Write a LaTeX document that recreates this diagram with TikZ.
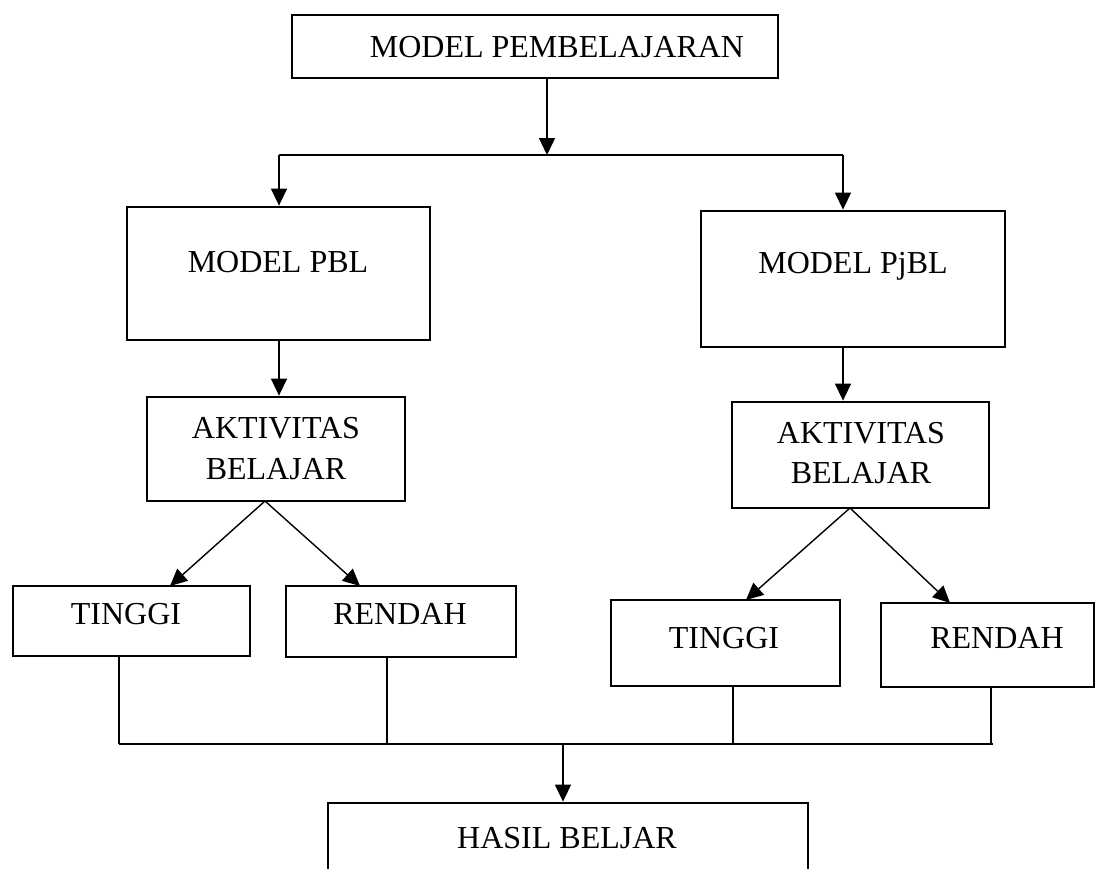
\documentclass[tikz,border=0pt]{standalone}
\usepackage{fontspec}
\setmainfont{Liberation Serif}
\usetikzlibrary{arrows.meta}
\begin{document}
\begin{tikzpicture}[x=1pt,y=-1pt,
  boxnode/.style={draw=black,line width=2.8pt,rectangle,inner sep=0pt},
  lbl/.style={inner sep=0pt,font=\fontsize{32}{37}\selectfont},
  conn/.style={line width=1.4pt},
  arr/.style={line width=1.4pt,-{Triangle[length=17pt,width=16pt]}}]
\useasboundingbox (0,0) rectangle (1097,868);
% boxes
\node[boxnode,minimum width=486pt,minimum height=63pt] (top) at (535,46.5) {};
\node[boxnode,minimum width=303pt,minimum height=133pt] (pbl) at (278.5,273.5) {};
\node[boxnode,minimum width=304pt,minimum height=136pt] (pjbl) at (853,279) {};
\node[boxnode,minimum width=258pt,minimum height=104pt] (aktl) at (276,449) {};
\node[boxnode,minimum width=257pt,minimum height=106pt] (aktr) at (860.5,455) {};
\node[boxnode,minimum width=237pt,minimum height=70pt] (tingl) at (131.5,621) {};
\node[boxnode,minimum width=230pt,minimum height=71pt] (rendl) at (401,621.5) {};
\node[boxnode,minimum width=229pt,minimum height=86pt] (tingr) at (725.5,643) {};
\node[boxnode,minimum width=213pt,minimum height=84pt] (rendr) at (987.5,645) {};
\node[boxnode,minimum width=480pt,minimum height=77pt] (hasil) at (568,841.5) {};
% labels
\node[lbl] (ttop) at (557,47) {MODEL PEMBELAJARAN};
\node[lbl] (tpbl) at (278,262) {MODEL PBL};
\node[lbl] (tpjbl) at (853,266) {MODEL PjBL};
\node[lbl] (taktl1) at (276,428) {AKTIVITAS};
\node[lbl] (taktl2) at (276,469) {BELAJAR};
\node[lbl] (taktr1) at (861,433) {AKTIVITAS};
\node[lbl] (taktr2) at (861,473) {BELAJAR};
\node[lbl] (ttingl) at (126,614) {TINGGI};
\node[lbl] (trendl) at (400,614) {RENDAH};
\node[lbl] (ttingr) at (724,638) {TINGGI};
\node[lbl] (trendr) at (997,638) {RENDAH};
\node[lbl] (thasil) at (567,838) {HASIL BELJAR};
% junction coordinates
\coordinate (jtop) at (547,155);
\coordinate (jl) at (279,155);
\coordinate (jr) at (843,155);
\coordinate (dl) at (265,501);
\coordinate (dr) at (850,508);
\coordinate (b1) at (119,744);
\coordinate (b2) at (387,744);
\coordinate (b3) at (733,744);
\coordinate (b4) at (991,744);
\coordinate (bend) at (993,744);
\coordinate (bmid) at (563,744);
% connectors
\draw[arr] (top.south -| jtop) -- (jtop);
\draw[conn] (jl) -- (jr);
\draw[arr] (jl) -- (pbl.north -| jl);
\draw[arr] (jr) -- (pjbl.north -| jr);
\draw[arr] (pbl.south -| jl) -- (aktl.north -| jl);
\draw[arr] (pjbl.south -| jr) -- (aktr.north -| jr);
\draw[arr] (dl) -- (170,586);
\draw[arr] (dl) -- (360,586);
\draw[arr] (dr) -- (746,600);
\draw[arr] (dr) -- (950,603);
\draw[conn] (tingl.south -| b1) -- (b1);
\draw[conn] (rendl.south -| b2) -- (b2);
\draw[conn] (tingr.south -| b3) -- (b3);
\draw[conn] (rendr.south -| b4) -- (b4);
\draw[conn] (b1) -- (bend);
\draw[arr] (bmid) -- (hasil.north -| bmid);
\end{tikzpicture}
\end{document}
